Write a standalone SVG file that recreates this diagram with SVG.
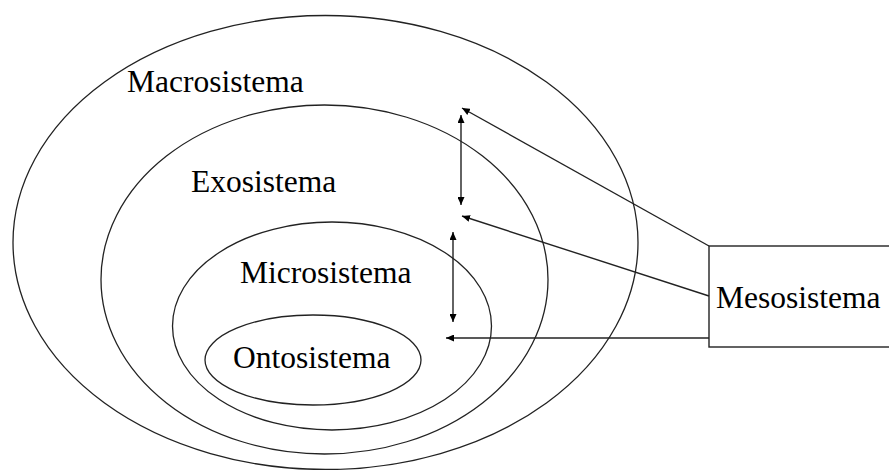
<svg xmlns="http://www.w3.org/2000/svg" width="889" height="470" viewBox="0 0 889 470">
  <style>
    .ring { fill: none; stroke: #222; stroke-width: 1.3; }
    .label { font-family: "Liberation Serif", "Times New Roman", serif; font-size: 31.5px; fill: #000; }
    .link { fill: none; stroke: #222; stroke-width: 1.4; }
  </style>
  <defs>
    <marker id="head" viewBox="0 0 10 10" refX="10" refY="5" markerWidth="8" markerHeight="7" orient="auto-start-reverse" markerUnits="userSpaceOnUse" preserveAspectRatio="none">
      <path d="M0,0 L10,5 L0,10 z" fill="#000"/>
    </marker>
  </defs>
  <rect width="889" height="470" fill="#fff"/>

  <g id="macrosistema">
    <ellipse class="ring" cx="325.5" cy="242.5" rx="312.5" ry="227"/>
    <text class="label" x="127" y="92">Macrosistema</text>
  </g>
  <g id="exosistema">
    <ellipse class="ring" cx="324.5" cy="279.5" rx="223.5" ry="174.5"/>
    <text class="label" x="191" y="192">Exosistema</text>
  </g>
  <g id="microsistema">
    <ellipse class="ring" cx="332" cy="326" rx="159.5" ry="104"/>
    <text class="label" x="240" y="283">Microsistema</text>
  </g>
  <g id="ontosistema">
    <ellipse class="ring" cx="313" cy="360" rx="108" ry="45"/>
    <text class="label" x="233" y="368">Ontosistema</text>
  </g>
  <g id="mesosistema">
    <rect x="709" y="246" width="200" height="101" fill="#fff" stroke="#222" stroke-width="1.4"/>
    <text class="label" x="716" y="308">Mesosistema</text>
  </g>

  <g id="connectors">
    <line class="link" x1="709" y1="246" x2="462" y2="108" marker-end="url(#head)"/>
    <line class="link" x1="709" y1="296" x2="462" y2="216" marker-end="url(#head)"/>
    <line class="link" x1="709" y1="338" x2="446" y2="338" marker-end="url(#head)"/>
    <line class="link" x1="461" y1="115" x2="461" y2="205" marker-start="url(#head)" marker-end="url(#head)"/>
    <line class="link" x1="453" y1="232" x2="453" y2="322" marker-start="url(#head)" marker-end="url(#head)"/>
  </g>
</svg>
